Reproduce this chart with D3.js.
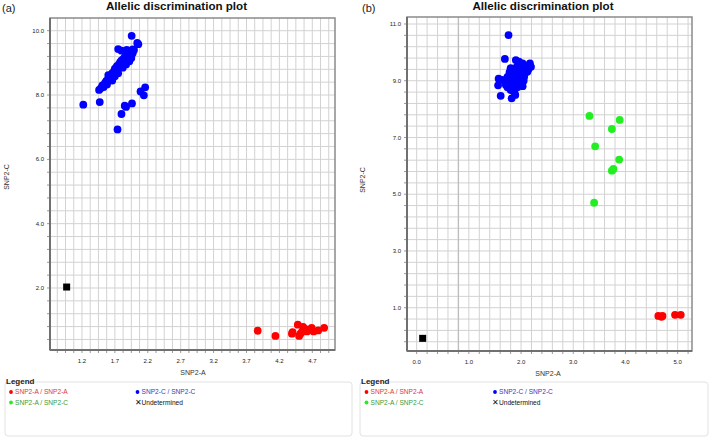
<!DOCTYPE html>
<html><head><meta charset="utf-8">
<script src="https://cdn.jsdelivr.net/npm/d3@7/dist/d3.min.js"></script>
<style>
html,body{margin:0;padding:0;background:#fff;}
svg{display:block;font-family:"Liberation Sans",Arial,sans-serif;}
</style></head>
<body><svg id="c" width="709" height="438"></svg>
<script>
// ---------- DATA ----------
const panelLabels = ["(a)", "(b)"];
const titleText = "Allelic discrimination plot";
const xAxisTitle = "SNP2-A";
const yAxisTitle = "SNP2-C";

// Panel (a)
const aXTicks = [1.2, 1.7, 2.2, 2.7, 3.2, 3.7, 4.2, 4.7];
const aYTicks = [2.0, 4.0, 6.0, 8.0, 10.0];
const aBlue = [
 [1.46,8.16],[1.49,8.22],[1.51,8.30],[1.53,8.25],[1.55,8.38],[1.57,8.44],[1.58,8.33],[1.60,8.52],
 [1.62,8.47],[1.63,8.60],[1.65,8.56],[1.66,8.68],[1.68,8.62],[1.69,8.75],[1.70,8.82],[1.72,8.70],
 [1.73,8.90],[1.74,8.80],[1.76,8.95],[1.77,8.86],[1.78,9.02],[1.79,8.92],[1.80,9.08],[1.81,8.98],
 [1.83,9.12],[1.84,9.03],[1.85,9.18],[1.86,9.10],[1.88,9.22],[1.89,9.14],[1.90,9.28],[1.91,9.20],
 [1.93,9.32],[1.94,9.25],[1.96,9.36],[1.97,9.30],[1.99,9.40],[1.80,9.38],[1.88,9.40],[1.60,8.62],
 [1.66,8.45],[1.70,8.58],[1.75,8.68],[1.82,8.85],[1.87,8.95],[1.92,9.05],[1.95,9.15],
 [1.955,9.84],[2.056,9.58],[2.04,9.62],[1.75,9.43],[1.97,9.42],
 [1.22,7.70],[1.47,7.78],[1.85,7.67],[1.87,7.63],[1.96,7.74],[1.80,7.41],[1.74,6.93],
 [2.16,8.24],[2.09,8.11],[2.14,7.99]
];
const aRed = [
 [3.87,0.67],[4.14,0.51],[4.40,0.63],[4.39,0.58],[4.48,0.86],[4.50,0.51],[4.56,0.79],[4.54,0.63],
 [4.52,0.58],[4.62,0.65],[4.60,0.72],[4.69,0.76],[4.72,0.65],[4.79,0.68],[4.88,0.76],[4.58,0.70]
];
const aGreen = [];
const aUndet = [[0.967,2.03]];

// Panel (b)
const bXTicks = [0.0, 1.0, 2.0, 3.0, 4.0, 5.0];
const bYTicks = [1.0, 3.0, 5.0, 7.0, 9.0, 11.0];
const bBlue = [
 [1.76,10.61],[1.69,9.77],[1.90,9.73],[1.96,9.67],[2.03,9.61],[2.16,9.55],[2.17,9.61],[2.09,9.49],
 [2.19,9.49],[2.12,9.44],[1.80,9.44],[1.87,9.38],[2.03,9.32],[2.12,9.32],[1.74,9.14],[1.84,9.20],
 [1.93,9.14],[2.06,9.14],[1.57,9.07],[1.64,9.03],[1.77,8.97],[1.90,8.97],[2.00,8.91],[1.56,8.84],
 [1.71,8.85],[1.84,8.79],[1.93,8.77],[2.03,8.81],[1.74,8.77],[1.80,8.67],[1.87,8.61],[1.61,8.47],
 [1.82,8.38],[1.89,8.50],[1.95,9.25],[2.00,9.40],[1.98,9.05],[1.86,9.05],[2.08,9.28],[1.78,9.30],
 [1.92,9.50],[2.05,9.00],[1.70,8.95],[2.14,9.40]
];
const bGreen = [
 [3.31,7.76],[3.89,7.62],[3.74,7.30],[3.42,6.69],[3.88,6.22],[3.77,5.89],[3.74,5.83],[3.40,4.70]
];
const bRed = [[4.63,0.71],[4.69,0.68],[4.71,0.71],[4.95,0.75],[5.06,0.75]];
const bUndet = [[0.115,-0.08]];

const legendItems = [
 {label:"SNP2-A / SNP2-A", kind:"red"},
 {label:"SNP2-C / SNP2-C", kind:"blue"},
 {label:"SNP2-A / SNP2-C", kind:"green"},
 {label:"Undetermined", kind:"undet"}
];

const colors = {red:"#ff0000", blue:"#0000ff", green:"#22ee22", undet:"#000000"};
const textColors = {red:"#d9383a", blue:"#3a3ab8", green:"#3a9a3a", undet:"#111111"};

// ---------- DRAW ----------
const svg = d3.select("#c");

function drawPanel(cfg){
  const g = svg.append("g");
  const x = d3.scaleLinear().domain(cfg.xDomain).range([cfg.left, cfg.right]);
  const y = d3.scaleLinear().domain(cfg.yDomain).range([cfg.bottom, cfg.top]);

  const xGrid = d3.range(cfg.xGridStart, cfg.xDomain[1], cfg.xGridStep).filter(v => v > cfg.xDomain[0]);
  const yGrid = d3.range(cfg.yGridStart, cfg.yDomain[1], cfg.yGridStep).filter(v => v > cfg.yDomain[0]);

  g.selectAll(".vg").data(xGrid).join("line")
    .attr("x1", d => x(d)).attr("x2", d => x(d))
    .attr("y1", cfg.top).attr("y2", cfg.bottom)
    .attr("stroke", "#d2d2d2").attr("stroke-width", 1);
  g.selectAll(".hg").data(yGrid).join("line")
    .attr("y1", d => y(d)).attr("y2", d => y(d))
    .attr("x1", cfg.left).attr("x2", cfg.right)
    .attr("stroke", "#d2d2d2").attr("stroke-width", 1);

  if (cfg.darkLine !== undefined) {
    g.append("line").attr("x1", x(cfg.darkLine)).attr("x2", x(cfg.darkLine))
      .attr("y1", cfg.top).attr("y2", cfg.bottom)
      .attr("stroke", "#bdbdbd").attr("stroke-width", 1.3);
  }

  g.selectAll(".xt").data(xGrid).join("line")
    .attr("x1", d => x(d)).attr("x2", d => x(d))
    .attr("y1", cfg.bottom).attr("y2", cfg.bottom + 3)
    .attr("stroke", "#999").attr("stroke-width", 1);
  g.selectAll(".yt").data(yGrid).join("line")
    .attr("y1", d => y(d)).attr("y2", d => y(d))
    .attr("x1", cfg.left - 3).attr("x2", cfg.left)
    .attr("stroke", "#999").attr("stroke-width", 1);

  g.append("rect").attr("x", cfg.left).attr("y", cfg.top)
    .attr("width", cfg.right - cfg.left).attr("height", cfg.bottom - cfg.top)
    .attr("fill", "none").attr("stroke", "#8a8a8a").attr("stroke-width", 1.5);
  g.append("line").attr("x1", cfg.left).attr("x2", cfg.left).attr("y1", cfg.top).attr("y2", cfg.bottom)
    .attr("stroke", "#707070").attr("stroke-width", 2);
  g.append("line").attr("x1", cfg.left).attr("x2", cfg.right).attr("y1", cfg.bottom).attr("y2", cfg.bottom)
    .attr("stroke", "#707070").attr("stroke-width", 2);

  g.selectAll(".xl").data(cfg.xTicks).join("text")
    .attr("x", d => x(d)).attr("y", cfg.bottom + 13)
    .attr("text-anchor", "middle").attr("font-size", 6).attr("fill", "#222")
    .text(d => d.toFixed(1));
  g.selectAll(".yl").data(cfg.yTicks).join("text")
    .attr("x", cfg.left - 6).attr("y", d => y(d) + 2.1)
    .attr("text-anchor", "end").attr("font-size", 6).attr("fill", "#222")
    .text(d => d.toFixed(1));

  g.append("text").attr("x", cfg.xTitleX).attr("y", cfg.bottom + 25)
    .attr("text-anchor", "middle").attr("font-size", 7).attr("fill", "#333").text(xAxisTitle);
  g.append("text").attr("transform", `translate(${cfg.yTitleX},${cfg.yTitleY}) rotate(-90)`)
    .attr("text-anchor", "middle").attr("font-size", 7).attr("fill", "#333").text(yAxisTitle);

  g.append("text").attr("x", cfg.titleX).attr("y", 10)
    .attr("text-anchor", "middle").attr("font-size", 11.6).attr("font-weight", "bold")
    .attr("fill", "#111").text(titleText);
  g.append("text").attr("x", cfg.labelX).attr("y", 12)
    .attr("font-size", 11).attr("fill", "#222").text(cfg.label);

  const series = [["blue", cfg.blue], ["green", cfg.green], ["red", cfg.red]];
  series.forEach(([k, pts]) => {
    g.selectAll(".p" + k).data(pts).join("circle")
      .attr("cx", d => x(d[0])).attr("cy", d => y(d[1])).attr("r", 3.9)
      .attr("fill", colors[k]);
  });
  g.selectAll(".und").data(cfg.undet).join("rect")
    .attr("x", d => x(d[0]) - 3.5).attr("y", d => y(d[1]) - 3.5)
    .attr("width", 7).attr("height", 7).attr("fill", "#000");

  const lx = cfg.legendLeft, lw = cfg.legendWidth;
  g.append("rect").attr("x", lx).attr("y", 382).attr("width", lw).attr("height", 54)
    .attr("rx", 3).attr("fill", "#fff").attr("stroke", "#e2e2e2").attr("stroke-width", 1);
  g.append("text").attr("x", lx + 1).attr("y", 384).attr("font-size", 8).attr("font-weight", "bold")
    .attr("fill", "#222").text("Legend");
  legendItems.forEach((it, i) => {
    const col = i % 2, row = Math.floor(i / 2);
    const ix = lx + cfg.legendDotOff + col * cfg.legendColStep;
    const iy = 392 + row * 10.5;
    if (it.kind === "undet") {
      g.append("text").attr("x", ix - 2.6).attr("y", iy + 2.6).attr("font-size", 7.5)
        .attr("fill", "#111").text("\u2715");
      g.append("text").attr("x", ix + 4).attr("y", iy + 2.4).attr("font-size", 6.6)
        .attr("fill", textColors[it.kind]).text(it.label);
    } else {
      g.append("circle").attr("cx", ix).attr("cy", iy).attr("r", 1.9).attr("fill", colors[it.kind]);
      g.append("text").attr("x", ix + 4).attr("y", iy + 2.4).attr("font-size", 6.6)
        .attr("fill", textColors[it.kind]).text(it.label);
    }
  });
}

drawPanel({
  label: panelLabels[0], labelX: 2, titleX: 176.5,
  left: 50, right: 335, top: 18, bottom: 350,
  xDomain: [0.714, 5.045], yDomain: [0.072, 10.395],
  xGridStart: 0.825, xGridStep: 0.125, yGridStart: 0.4, yGridStep: 0.4,
  xTicks: aXTicks, yTicks: aYTicks,
  blue: aBlue, red: aRed, green: aGreen, undet: aUndet,
  xTitleX: 193, yTitleX: 9, yTitleY: 177,
  legendLeft: 5, legendWidth: 347, legendDotOff: 6, legendColStep: 126.5
});
drawPanel({
  label: panelLabels[1], labelX: 362, titleX: 543,
  left: 407, right: 692, top: 17, bottom: 351,
  xDomain: [-0.185, 5.275], yDomain: [-0.526, 11.247],
  xGridStart: 0.0, xGridStep: 0.2, yGridStart: -0.2, yGridStep: 0.4,
  darkLine: 0.8,
  xTicks: bXTicks, yTicks: bYTicks,
  blue: bBlue, red: bRed, green: bGreen, undet: bUndet,
  xTitleX: 548, yTitleX: 365, yTitleY: 180,
  legendLeft: 360, legendWidth: 348, legendDotOff: 6.5, legendColStep: 128.5
});
</script></body></html>
